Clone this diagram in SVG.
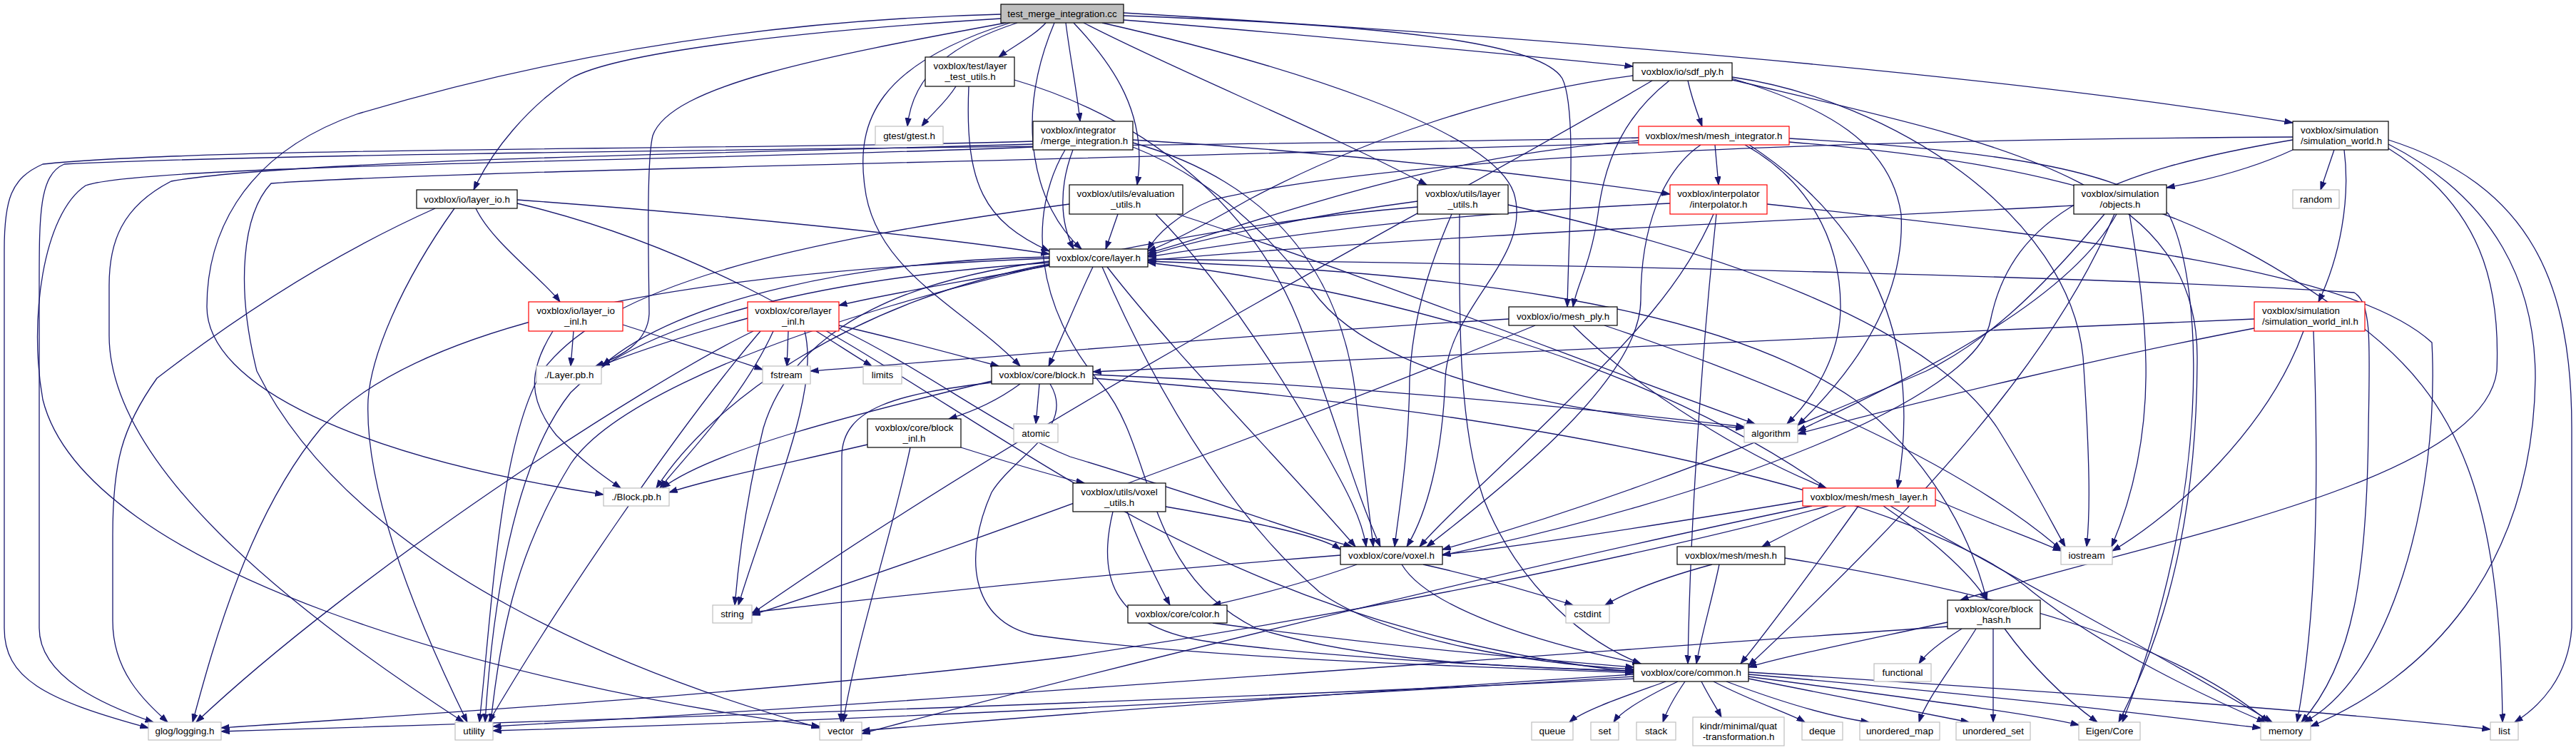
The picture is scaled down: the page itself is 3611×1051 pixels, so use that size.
<svg xmlns="http://www.w3.org/2000/svg" width="3611" height="1051" viewBox="0 0 3611 1051">
<style>
text{font-family:"Liberation Sans",Arial,Helvetica,sans-serif;font-size:13.33px;fill:#000;text-anchor:middle}
text.l{text-anchor:start}
rect{fill:#fff;stroke:#000;stroke-width:1.2}
.s rect{stroke:#bfbfbf}
.r rect{stroke:#ff0000}
#edges path{fill:none;stroke:#191970;stroke-width:1.3;marker-end:url(#a)}
</style>
<defs>
<marker id="a" markerWidth="13" markerHeight="10" refX="11.5" refY="4.5" orient="auto" markerUnits="userSpaceOnUse"><path d="M0,0.5 L11.5,4.5 L0,8.5 z" fill="#191970" stroke="#191970" stroke-width="1"/></marker>
</defs>
<rect x="0" y="0" width="3611" height="1051" style="fill:#fff;stroke:none"/>
<g id="edges">
<path d="M1466,32 C1450,50 1420,65 1400,80"/>
<path d="M1426,32 C1340,60 1280,100 1272,177"/>
<path d="M1494,32 C1500,80 1510,130 1514,170"/>
<path d="M1505,32 C1560,90 1610,160 1594,259"/>
<path d="M1478,32 C1420,170 1450,290 1516,349"/>
<path d="M1416,32 C1230,90 1200,170 1212,260 C1225,380 1350,430 1430,513"/>
<path d="M1403,26 C1100,45 860,75 800,110 C740,150 690,210 664,266"/>
<path d="M1403,20 C1000,30 700,100 500,160 C330,220 290,340 290,430 C290,540 500,640 846,693"/>
<path d="M1410,32 C1150,80 940,120 915,190 C905,230 910,400 910,440 C908,480 870,500 835,513"/>
<path d="M1519,32 C1650,100 1850,180 2000,259"/>
<path d="M1545,32 C1800,90 2090,180 2122,270 C2150,360 2030,430 2026,530 C2022,640 2000,720 1972,766"/>
<path d="M1575,22 C1950,35 2160,60 2190,110 C2210,150 2200,300 2197,430"/>
<path d="M1575,28 C1850,50 2100,75 2289,93"/>
<path d="M1575,18 C2200,55 2800,105 3214,172"/>
<path d="M1340,121 C1325,145 1305,160 1292,177"/>
<path d="M1358,121 C1352,260 1380,310 1471,352"/>
<path d="M1422,112 C1620,170 1760,300 1820,450 C1870,580 1900,690 1935,766"/>
<path d="M1504,210 C1485,260 1485,310 1505,349"/>
<path d="M1493,210 C1440,300 1450,430 1545,540 C1620,630 1600,800 1760,880 C1900,925 2100,935 2290,940"/>
<path d="M1448,198 C1100,210 300,205 60,230 C15,250 6,280 6,350 L6,880 C6,950 60,980 208,1020"/>
<path d="M1448,202 C1000,215 400,225 240,254 C170,290 153,340 153,400 L153,470 C153,650 400,850 650,1012"/>
<path d="M1448,206 C1000,225 200,230 120,260 C60,300 40,450 60,560 C120,800 700,960 1149,1018"/>
<path d="M1588,206 C1700,250 1780,330 1850,420 C1950,540 2250,585 2445,600"/>
<path d="M1588,196 C1900,215 2150,245 2341,272"/>
<path d="M1588,200 C1800,260 1880,400 1900,550 C1910,650 1920,720 1925,766"/>
<path d="M1567,300 C1560,320 1555,335 1550,349"/>
<path d="M1499,286 C1100,340 850,400 760,520 C700,620 690,850 672,1012"/>
<path d="M1620,300 C1700,380 1780,500 1850,620 C1890,690 1910,730 1915,766"/>
<path d="M1650,300 C1900,380 2200,500 2460,594"/>
<path d="M1471,372 C1350,395 1250,410 1176,428"/>
<path d="M1532,374 C1510,420 1490,470 1470,513"/>
<path d="M1545,374 C1600,500 1700,700 1850,830 C1950,900 2150,930 2290,938"/>
<path d="M1552,374 C1650,500 1800,650 1900,766"/>
<path d="M1471,362 C1000,380 600,440 450,600 C350,720 300,900 270,1012"/>
<path d="M1471,366 C1200,400 1100,500 1070,600 C1045,700 1035,790 1030,848"/>
<path d="M1471,368 C1150,390 900,450 800,550 C720,650 690,850 680,1012"/>
<path d="M1471,360 C1200,365 950,420 845,512"/>
<path d="M1471,370 C1200,420 1000,560 920,684"/>
<path d="M1609,363 C2300,372 3000,390 3300,410 C3325,425 3322,480 3320,600 C3318,800 3300,930 3226,1012"/>
<path d="M1609,366 C2000,380 2400,420 2600,560 C2700,640 2760,740 2785,841"/>
<path d="M667,292 C690,340 760,390 785,423"/>
<path d="M725,280 C1000,300 1300,330 1471,356"/>
<path d="M725,285 C1300,420 1500,850 2290,942"/>
<path d="M610,292 C480,350 350,430 220,530 C170,600 158,650 158,750 L158,870 C158,940 200,980 235,1012"/>
<path d="M637,292 C560,400 520,500 516,560 C510,700 600,900 655,1012"/>
<path d="M804,464 L800,513"/>
<path d="M775,464 C740,520 740,560 780,610 C820,650 850,670 870,684"/>
<path d="M873,455 C950,480 1020,500 1069,518"/>
<path d="M1048,446 C960,470 900,490 843,512"/>
<path d="M1056,464 C900,540 500,800 275,1012"/>
<path d="M1066,464 C950,600 780,850 685,1012"/>
<path d="M1084,464 C1040,560 960,640 925,684"/>
<path d="M1105,464 L1103,513"/>
<path d="M1128,464 C1150,550 1080,700 1035,848"/>
<path d="M1144,464 C1170,480 1200,500 1222,513"/>
<path d="M1176,460 C1300,520 1400,600 1500,640 C1700,700 1800,740 1895,766"/>
<path d="M1176,456 C1280,480 1350,500 1400,513"/>
<path d="M1430,538 C1400,560 1370,575 1330,587"/>
<path d="M1457,538 L1452,594"/>
<path d="M1390,534 C1200,580 1000,630 928,684"/>
<path d="M1390,536 C1260,552 1180,570 1180,640 L1179,1012"/>
<path d="M1532,525 C1900,540 2200,570 2445,598"/>
<path d="M1532,530 C2200,580 2700,700 2850,830 C2950,910 3100,980 3175,1012"/>
<path d="M1472,538 C1510,600 1420,640 1390,690 C1350,780 1360,870 1450,890 C1700,925 2100,935 2290,943"/>
<path d="M1216,623 C1100,650 1000,670 938,690"/>
<path d="M1276,627 C1250,750 1200,900 1182,1012"/>
<path d="M1347,627 C1420,650 1490,670 1520,677"/>
<path d="M1580,717 C1600,770 1625,820 1640,848"/>
<path d="M1560,717 C1540,800 1550,880 1700,900 C1900,925 2150,935 2290,941"/>
<path d="M1634,710 C1750,730 1850,750 1879,770"/>
<path d="M1879,778 C1600,800 1300,830 1054,858"/>
<path d="M1902,791 C1850,810 1780,830 1700,848"/>
<path d="M1995,791 C2080,810 2150,830 2205,848"/>
<path d="M1965,791 C2000,850 2150,900 2300,930"/>
<path d="M1700,873 C1900,900 2100,920 2290,935"/>
<path d="M2335,955 C2280,975 2220,995 2200,1012"/>
<path d="M2352,955 C2300,980 2270,1000 2262,1012"/>
<path d="M2362,955 C2345,980 2335,1000 2331,1012"/>
<path d="M2385,955 C2395,975 2405,990 2413,1005"/>
<path d="M2402,955 C2460,985 2510,1000 2530,1012"/>
<path d="M2420,955 C2500,985 2570,1005 2620,1012"/>
<path d="M2451,951 C2600,980 2700,1000 2760,1012"/>
<path d="M2451,948 C2650,975 2850,1000 2914,1016"/>
<path d="M2451,945 C2800,975 3000,1000 3169,1020"/>
<path d="M2451,942 C2900,970 3300,1000 3491,1022"/>
<path d="M2290,945 C1900,970 1500,1000 1208,1024"/>
<path d="M2290,948 C1800,980 1200,1010 691,1024"/>
<path d="M2290,951 C1600,985 800,1010 310,1025"/>
<path d="M2366,113 C2372,140 2380,160 2386,177"/>
<path d="M2340,113 C2280,160 2250,220 2240,300 C2230,370 2210,400 2205,430"/>
<path d="M2289,106 C2100,130 1900,200 1750,280 C1680,320 1640,340 1609,352"/>
<path d="M2316,113 C2000,300 1500,550 1054,860"/>
<path d="M2428,110 C2560,150 2650,200 2665,300 C2670,400 2620,500 2520,596"/>
<path d="M2428,112 C2800,200 3080,250 3080,500 C3080,800 3000,950 2970,1012"/>
<path d="M2428,108 C2650,140 2900,300 2920,500 C2930,650 2930,720 2925,766"/>
<path d="M2404,203 L2409,259"/>
<path d="M2384,203 C2330,240 2300,320 2300,420 C2300,520 2150,650 2000,766"/>
<path d="M2446,203 C2530,250 2580,330 2580,430 C2580,500 2540,560 2505,594"/>
<path d="M2452,203 C2600,300 2700,450 2660,684"/>
<path d="M2508,194 C2800,210 2980,240 3040,300 C3090,400 3100,700 2975,1012"/>
<path d="M2508,199 C2900,230 3100,300 3300,450 C3450,560 3505,700 3508,1012"/>
<path d="M2297,193 C1800,205 500,210 90,230 C55,245 55,300 55,400 L55,880 C55,950 150,990 215,1012"/>
<path d="M2297,197 C2000,220 1800,300 1609,355"/>
<path d="M2297,200 C1500,225 600,240 380,257 C340,300 330,400 360,520 C500,800 900,950 1149,1020"/>
<path d="M1987,282 C1850,300 1700,330 1609,358"/>
<path d="M1987,290 C1500,330 900,500 800,650 C720,780 700,900 688,1012"/>
<path d="M2035,300 C2000,380 1980,450 1976,530 C1975,640 1960,720 1955,766"/>
<path d="M2046,300 C2045,450 2045,600 2080,700 C2120,800 2200,890 2300,930"/>
<path d="M2114,287 C2400,350 2700,450 2800,600 C2850,680 2880,740 2895,766"/>
<path d="M2341,285 C2000,300 1800,330 1609,360"/>
<path d="M2402,300 C2360,400 2280,480 2200,560 C2100,660 2030,720 1990,766"/>
<path d="M2406,300 C2390,450 2370,700 2366,930"/>
<path d="M2477,286 C2950,337 3300,380 3409,480 C3420,700 3350,950 3230,1012"/>
<path d="M2115,447 C1800,465 1400,500 1136,520"/>
<path d="M2152,456 C1900,560 1400,750 1054,862"/>
<path d="M2205,456 C2300,550 2450,640 2560,684"/>
<path d="M2249,456 C2500,540 2750,650 2889,770"/>
<path d="M3214,210 C3150,240 3080,255 3037,263"/>
<path d="M3272,210 L3253,266"/>
<path d="M3286,210 C3295,280 3280,360 3250,423"/>
<path d="M3214,192 C2700,195 2000,210 1700,280 C1650,300 1620,330 1609,350"/>
<path d="M3214,196 C2950,240 2820,300 2790,450 C2770,560 2400,700 2022,778"/>
<path d="M3348,208 C3480,290 3505,400 3500,520 C3480,680 3000,760 2748,841"/>
<path d="M3348,202 C3500,280 3554,400 3554,530 C3550,800 3400,950 3239,1018"/>
<path d="M3348,196 C3550,260 3605,400 3605,600 L3605,880 C3600,950 3560,990 3525,1012"/>
<path d="M2907,288 C2500,310 2000,330 1609,365"/>
<path d="M2950,300 C2850,420 2780,480 2700,520 C2400,650 2200,720 2022,770"/>
<path d="M2964,300 C2880,500 2700,700 2451,933"/>
<path d="M2967,300 C2900,420 2700,520 2520,604"/>
<path d="M2985,300 C3010,450 3030,600 2960,766"/>
<path d="M3160,447 C2600,470 2000,500 1532,521"/>
<path d="M3160,460 C2950,500 2700,560 2520,608"/>
<path d="M3229,464 C3180,600 3050,720 2961,772"/>
<path d="M3243,464 C3250,650 3250,850 3220,1012"/>
<path d="M2527,702 C2300,740 2100,770 2022,777"/>
<path d="M2563,709 C2300,780 1900,860 1500,920 C1100,970 600,1000 310,1020"/>
<path d="M2588,709 C2540,730 2500,750 2470,766"/>
<path d="M2605,709 C2540,800 2480,880 2440,930"/>
<path d="M2640,709 C2700,750 2760,800 2785,841"/>
<path d="M2650,709 C2800,800 3000,900 3185,1012"/>
<path d="M2713,700 C2780,730 2850,755 2889,772"/>
<path d="M2540,709 C2100,800 1500,950 1208,1028"/>
<path d="M2560,684 C2300,500 1900,400 1609,368"/>
<path d="M2400,791 C2330,810 2280,830 2250,848"/>
<path d="M2410,791 C2400,840 2385,890 2378,930"/>
<path d="M2502,782 C2800,830 3050,900 3180,1012"/>
<path d="M2730,872 C2600,900 2500,920 2451,935"/>
<path d="M2750,881 C2720,900 2700,915 2690,930"/>
<path d="M2770,881 C2740,930 2700,980 2690,1012"/>
<path d="M2794,881 L2794,1012"/>
<path d="M2810,881 C2860,950 2910,990 2940,1012"/>
<path d="M2730,878 C2000,930 1200,990 691,1018"/>
</g>
<g id="nodes">
<g id="node-root"><rect x="1403" y="6" width="172" height="26" style="fill:#bfbfbf"/><text x="1489" y="23.5">test_merge_integration.cc</text></g>
<g id="node-layer_test_utils"><rect x="1297" y="80" width="125" height="41"/><text x="1360" y="96.5">voxblox/test/layer</text><text x="1360" y="111.5">_test_utils.h</text></g>
<g id="node-gtest" class="s"><rect x="1227" y="177" width="95" height="26"/><text x="1274.5" y="194.5">gtest/gtest.h</text></g>
<g id="node-merge_integration"><rect x="1448" y="170" width="140" height="40"/><text class="l" x="1459" y="186.5">voxblox/integrator</text><text class="l" x="1459" y="201.5">/merge_integration.h</text></g>
<g id="node-evaluation_utils"><rect x="1499" y="259" width="159" height="41"/><text x="1578" y="275.5">voxblox/utils/evaluation</text><text x="1578" y="290.5">_utils.h</text></g>
<g id="node-layer"><rect x="1471" y="349" width="138" height="25"/><text x="1540" y="366">voxblox/core/layer.h</text></g>
<g id="node-layer_io"><rect x="584" y="266" width="141" height="26"/><text x="654.5" y="283.5">voxblox/io/layer_io.h</text></g>
<g id="node-layer_io_inl" class="r"><rect x="741" y="423" width="132" height="41"/><text x="807" y="439.5">voxblox/io/layer_io</text><text x="807" y="454.5">_inl.h</text></g>
<g id="node-layer_pb" class="s"><rect x="752" y="513" width="91" height="25"/><text x="797.5" y="530">./Layer.pb.h</text></g>
<g id="node-block_pb" class="s"><rect x="846" y="684" width="92" height="25"/><text x="892" y="701">./Block.pb.h</text></g>
<g id="node-glog" class="s"><rect x="208" y="1012" width="102" height="25"/><text x="259" y="1029">glog/logging.h</text></g>
<g id="node-utility" class="s"><rect x="638" y="1012" width="53" height="25"/><text x="664.5" y="1029">utility</text></g>
<g id="node-layer_inl" class="r"><rect x="1048" y="423" width="128" height="41"/><text x="1112" y="439.5">voxblox/core/layer</text><text x="1112" y="454.5">_inl.h</text></g>
<g id="node-fstream" class="s"><rect x="1069" y="513" width="67" height="25"/><text x="1102.5" y="530">fstream</text></g>
<g id="node-limits" class="s"><rect x="1210" y="513" width="54" height="25"/><text x="1237" y="530">limits</text></g>
<g id="node-block"><rect x="1390" y="513" width="142" height="25"/><text x="1461" y="530">voxblox/core/block.h</text></g>
<g id="node-block_inl"><rect x="1216" y="587" width="131" height="40"/><text x="1281.5" y="603.5">voxblox/core/block</text><text x="1281.5" y="618.5">_inl.h</text></g>
<g id="node-atomic" class="s"><rect x="1421" y="594" width="62" height="26"/><text x="1452" y="611.5">atomic</text></g>
<g id="node-voxel_utils"><rect x="1504" y="677" width="130" height="40"/><text x="1569" y="693.5">voxblox/utils/voxel</text><text x="1569" y="708.5">_utils.h</text></g>
<g id="node-string" class="s"><rect x="999" y="848" width="55" height="25"/><text x="1026.5" y="865">string</text></g>
<g id="node-color"><rect x="1581" y="848" width="139" height="25"/><text x="1650.5" y="865">voxblox/core/color.h</text></g>
<g id="node-vector" class="s"><rect x="1149" y="1012" width="59" height="25"/><text x="1178.5" y="1029">vector</text></g>
<g id="node-sdf_ply"><rect x="2289" y="88" width="139" height="25"/><text x="2358.5" y="105">voxblox/io/sdf_ply.h</text></g>
<g id="node-mesh_integrator" class="r"><rect x="2297" y="177" width="211" height="26"/><text x="2402.5" y="194.5">voxblox/mesh/mesh_integrator.h</text></g>
<g id="node-layer_utils"><rect x="1987" y="259" width="127" height="41"/><text x="2050.5" y="275.5">voxblox/utils/layer</text><text x="2050.5" y="290.5">_utils.h</text></g>
<g id="node-interpolator" class="r"><rect x="2341" y="259" width="136" height="41"/><text x="2409" y="275.5">voxblox/interpolator</text><text x="2409" y="290.5">/interpolator.h</text></g>
<g id="node-mesh_ply"><rect x="2115" y="430" width="152" height="26"/><text x="2191" y="447.5">voxblox/io/mesh_ply.h</text></g>
<g id="node-simulation_world"><rect x="3214" y="170" width="134" height="40"/><text class="l" x="3225" y="186.5">voxblox/simulation</text><text class="l" x="3225" y="201.5">/simulation_world.h</text></g>
<g id="node-objects"><rect x="2907" y="259" width="130" height="41"/><text x="2972" y="275.5">voxblox/simulation</text><text x="2972" y="290.5">/objects.h</text></g>
<g id="node-random" class="s"><rect x="3214" y="266" width="65" height="26"/><text x="3246.5" y="283.5">random</text></g>
<g id="node-simulation_world_inl" class="r"><rect x="3160" y="423" width="155" height="41"/><text class="l" x="3171" y="439.5">voxblox/simulation</text><text class="l" x="3171" y="454.5">/simulation_world_inl.h</text></g>
<g id="node-algorithm" class="s"><rect x="2445" y="594" width="75" height="26"/><text x="2482.5" y="611.5">algorithm</text></g>
<g id="node-mesh_layer" class="r"><rect x="2527" y="684" width="186" height="25"/><text x="2620" y="701">voxblox/mesh/mesh_layer.h</text></g>
<g id="node-voxel"><rect x="1879" y="766" width="143" height="25"/><text x="1950.5" y="783">voxblox/core/voxel.h</text></g>
<g id="node-mesh"><rect x="2351" y="766" width="151" height="25"/><text x="2426.5" y="783">voxblox/mesh/mesh.h</text></g>
<g id="node-cstdint" class="s"><rect x="2195" y="848" width="61" height="25"/><text x="2225.5" y="865">cstdint</text></g>
<g id="node-common"><rect x="2290" y="930" width="161" height="25"/><text x="2370.5" y="947">voxblox/core/common.h</text></g>
<g id="node-functional" class="s"><rect x="2627" y="930" width="80" height="25"/><text x="2667" y="947">functional</text></g>
<g id="node-queue" class="s"><rect x="2147" y="1012" width="58" height="25"/><text x="2176" y="1029">queue</text></g>
<g id="node-set" class="s"><rect x="2230" y="1012" width="39" height="25"/><text x="2249.5" y="1029">set</text></g>
<g id="node-stack" class="s"><rect x="2294" y="1012" width="55" height="25"/><text x="2321.5" y="1029">stack</text></g>
<g id="node-kindr" class="s"><rect x="2373" y="1005" width="128" height="40"/><text x="2437" y="1021.5">kindr/minimal/quat</text><text x="2437" y="1036.5">-transformation.h</text></g>
<g id="node-deque" class="s"><rect x="2526" y="1012" width="57" height="25"/><text x="2554.5" y="1029">deque</text></g>
<g id="node-unordered_map" class="s"><rect x="2607" y="1012" width="112" height="25"/><text x="2663" y="1029">unordered_map</text></g>
<g id="node-iostream" class="s"><rect x="2889" y="766" width="72" height="25"/><text x="2925" y="783">iostream</text></g>
<g id="node-block_hash"><rect x="2730" y="841" width="130" height="40"/><text x="2795" y="857.5">voxblox/core/block</text><text x="2795" y="872.5">_hash.h</text></g>
<g id="node-unordered_set" class="s"><rect x="2742" y="1012" width="104" height="25"/><text x="2794" y="1029">unordered_set</text></g>
<g id="node-eigen" class="s"><rect x="2914" y="1012" width="86" height="25"/><text x="2957" y="1029">Eigen/Core</text></g>
<g id="node-memory" class="s"><rect x="3169" y="1012" width="70" height="25"/><text x="3204" y="1029">memory</text></g>
<g id="node-list" class="s"><rect x="3491" y="1012" width="39" height="25"/><text x="3510.5" y="1029">list</text></g>
</g>
</svg>
